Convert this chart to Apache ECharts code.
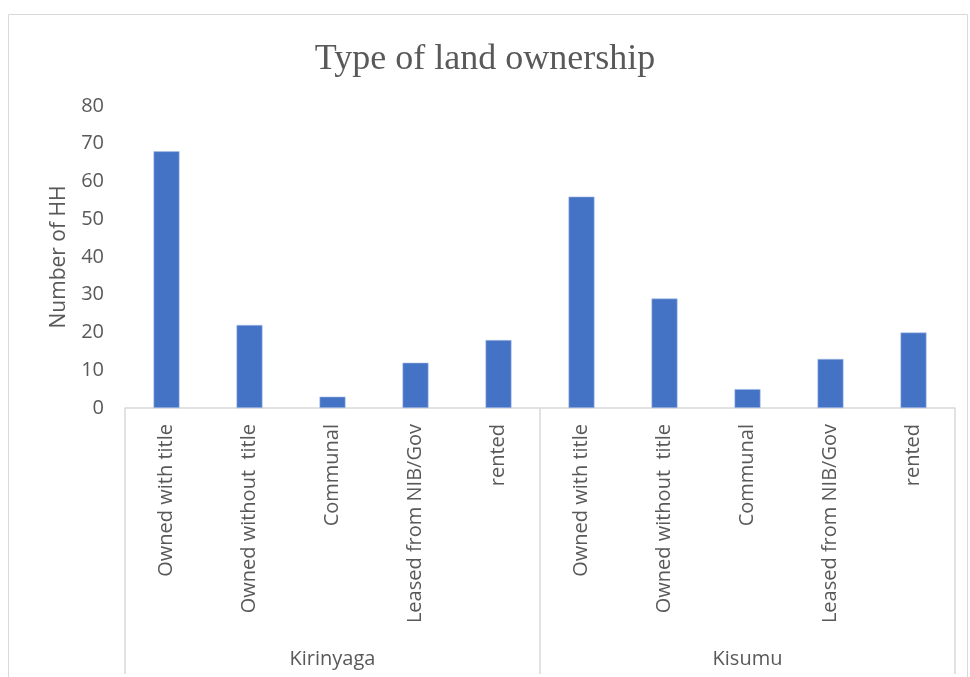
<!DOCTYPE html>
<html>
<head>
<meta charset="utf-8">
<script src="https://cdn.jsdelivr.net/npm/echarts@6/dist/echarts.min.js"></script>
<style>
html,body{margin:0;padding:0;background:#fff;}
#c{width:970px;height:677px;}
</style>
</head>
<body>
<div id="c"></div>
<script>
const groups = ['Kirinyaga', 'Kisumu'];
const subCategories = ['Owned with title', 'Owned without  title', 'Communal', 'Leased from NIB/Gov', 'rented'];
const kirinyagaValues = [68, 22, 3, 12, 18];
const kisumuValues = [56, 29, 5, 13, 20];
const yTicks = [0, 10, 20, 30, 40, 50, 60, 70, 80];

const categories = [];
groups.forEach(function (g) { subCategories.forEach(function (s) { categories.push(s); }); });
const values = kirinyagaValues.concat(kisumuValues);

const chart = echarts.init(document.getElementById('c'), null, {renderer: 'canvas'});
const font = '"Open Sans", "Noto Sans", sans-serif';
chart.setOption({
  animation: false,
  backgroundColor: '#ffffff',
  title: {
    text: 'Type of land ownership',
    left: 'center',
    top: 37,
    textStyle: {fontFamily: '"Liberation Serif", "DejaVu Serif", serif', fontSize: 36, fontWeight: 'normal', color: '#595959'}
  },
  graphic: [{
    type: 'rect',
    shape: {x: 8.5, y: 14.5, width: 959, height: 700},
    style: {fill: 'none', stroke: '#d9d9d9', lineWidth: 1},
    silent: true, z: -1
  }],
  grid: {left: 125, right: 15, top: 106, bottom: 269, containLabel: false},
  xAxis: [{
    type: 'category',
    data: categories,
    position: 'bottom',
    axisLine: {show: true, lineStyle: {color: '#d9d9d9', width: 1.5}},
    axisTick: {show: false},
    axisLabel: {
      rotate: 90, interval: 0, margin: 16,
      fontFamily: font, fontSize: 20, color: '#595959'
    }
  }, {
    type: 'category',
    data: groups,
    position: 'bottom',
    axisLine: {show: false},
    axisTick: {show: true, length: 266, inside: false, lineStyle: {color: '#d9d9d9', width: 1.5}},
    axisLabel: {interval: 0, margin: 241, fontFamily: font, fontSize: 20, color: '#595959'}
  }],
  yAxis: {
    type: 'value',
    min: yTicks[0], max: yTicks[yTicks.length - 1], interval: 10,
    name: 'Number of HH',
    nameLocation: 'middle',
    nameGap: 55,
    nameTextStyle: {fontFamily: font, fontSize: 21, color: '#595959'},
    axisLine: {show: false},
    axisTick: {show: false},
    splitLine: {show: false},
    axisLabel: {fontFamily: font, fontSize: 20, color: '#595959', margin: 21}
  },
  series: [{
    type: 'bar',
    xAxisIndex: 0,
    data: values,
    barWidth: 26,
    itemStyle: {color: '#4472C4', borderColor: '#a9c0e8', borderWidth: 0.6}
  }]
});
</script>
</body>
</html>
